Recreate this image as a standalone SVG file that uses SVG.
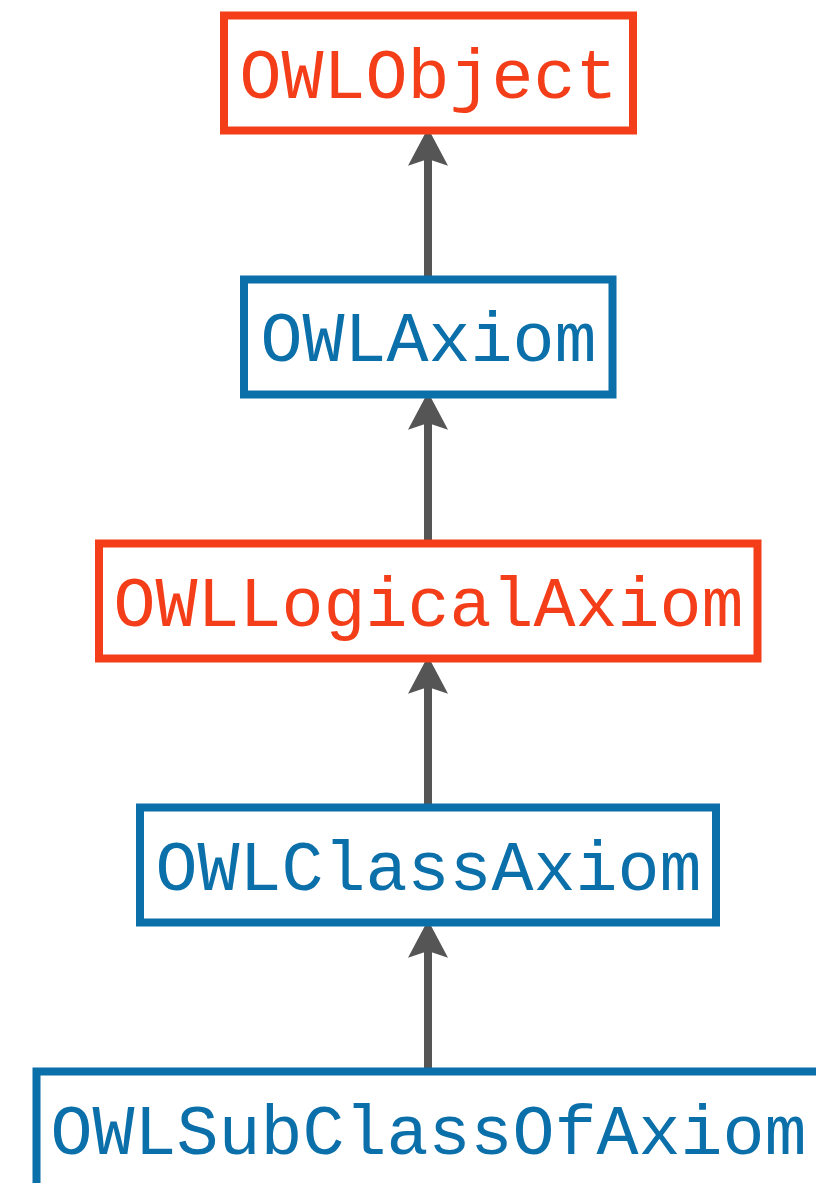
<svg xmlns="http://www.w3.org/2000/svg" width="816" height="1183" viewBox="0 0 816 1183">
<style>
.box{fill:#ffffff;stroke-width:8}
.red .box{stroke:#F43D19}
.blue .box{stroke:#0B6FAA}
.lbl{font-family:"Liberation Mono","Courier New",monospace;font-size:70px;text-anchor:middle}
.red .lbl{fill:#F43D19}
.blue .lbl{fill:#0B6FAA}
.edge{stroke:#555555;stroke-width:8;fill:none}
</style>
<defs>
<marker id="ah" markerUnits="userSpaceOnUse" markerWidth="40" markerHeight="40" viewBox="0 0 36 36" refX="6" refY="18" orient="auto">
<path d="M34,18 L0,0 L6,18 L0,36 Z" fill="#555555"/>
</marker>
</defs>
<rect width="816" height="1183" fill="#ffffff"/>
<g id="connectors">
<path class="edge" d="M428,1071.5 L428,951" marker-end="url(#ah)"/>
<path class="edge" d="M428,807.5 L428,687" marker-end="url(#ah)"/>
<path class="edge" d="M428,543.5 L428,423" marker-end="url(#ah)"/>
<path class="edge" d="M428,279.5 L428,159" marker-end="url(#ah)"/>
</g>
<g id="owlobject" class="red">
<rect class="box" x="224" y="15.5" width="409" height="115"/>
<text class="lbl" x="428.5" y="98">OWLObject</text>
</g>
<g id="owlaxiom" class="blue">
<rect class="box" x="244" y="279.5" width="368.5" height="115"/>
<text class="lbl" x="428.5" y="361">OWLAxiom</text>
</g>
<g id="owllogicalaxiom" class="red">
<rect class="box" x="99" y="543.5" width="658.5" height="115"/>
<text class="lbl" x="428.5" y="626">OWLLogicalAxiom</text>
</g>
<g id="owlclassaxiom" class="blue">
<rect class="box" x="140" y="807.5" width="576" height="115"/>
<text class="lbl" x="428.5" y="890">OWLClassAxiom</text>
</g>
<g id="owlsubclassofaxiom" class="blue">
<rect class="box" x="36.5" y="1071.5" width="784" height="130"/>
<text class="lbl" x="428.5" y="1154">OWLSubClassOfAxiom</text>
</g>
</svg>
